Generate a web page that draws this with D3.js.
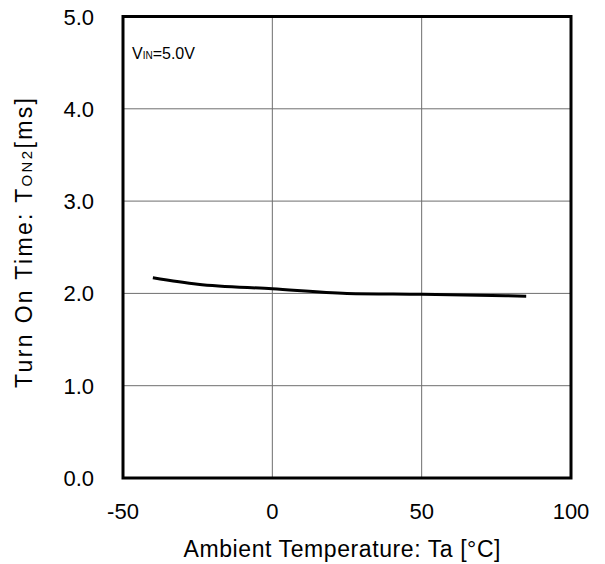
<!DOCTYPE html>
<html><head><meta charset="utf-8">
<script src="https://cdn.jsdelivr.net/npm/d3@7"></script>
<style>body{margin:0;background:#fff}svg{display:block}text{font-family:"Liberation Sans",Arial,sans-serif;fill:#000}</style>
</head><body>
<svg id="c" width="605" height="564"></svg>
<script>
const temps = [-40, -25, 0, 25, 50, 85];
const tonValues = [2.17, 2.10, 2.05, 2.00, 1.99, 1.97];
const xTicks = [-50, 0, 50, 100];
const yTicks = [0, 1, 2, 3, 4, 5];
const xLabels = ["-50", "0", "50", "100"];
const yLabels = ["0.0", "1.0", "2.0", "3.0", "4.0", "5.0"];

const svg = d3.select("#c");
const L = 123, R = 571, T = 16.5, B = 478;
const x = d3.scaleLinear().domain([-50, 100]).range([L, R]);
const y = d3.scaleLinear().domain([0, 5]).range([B, T]);

// grid
svg.append("g").selectAll("line").data(xTicks.slice(1, -1)).join("line")
  .attr("x1", d => x(d)).attr("x2", d => x(d)).attr("y1", T).attr("y2", B)
  .attr("stroke", "#6e6e6e").attr("stroke-width", 1);
svg.append("g").selectAll("line").data(yTicks.slice(1, -1)).join("line")
  .attr("y1", d => y(d)).attr("y2", d => y(d)).attr("x1", L).attr("x2", R)
  .attr("stroke", "#6e6e6e").attr("stroke-width", 1);

// data line
svg.append("path").datum(temps.map((t, i) => [t, tonValues[i]]))
  .attr("d", d3.line().x(d => x(d[0])).y(d => y(d[1])).curve(d3.curveMonotoneX))
  .attr("fill", "none").attr("stroke", "#000").attr("stroke-width", 3);

// frame
svg.append("rect").attr("x", L).attr("y", T).attr("width", R - L).attr("height", B - T)
  .attr("fill", "none").attr("stroke", "#000").attr("stroke-width", 3);

// tick labels
svg.append("g").selectAll("text").data(xTicks).join("text")
  .attr("x", d => x(d)).attr("y", 519).attr("text-anchor", "middle")
  .attr("font-size", 22).text((d, i) => xLabels[i]);
svg.append("g").selectAll("text").data(yTicks).join("text")
  .attr("x", 94).attr("y", d => y(d) + 8).attr("text-anchor", "end")
  .attr("font-size", 22).text((d, i) => yLabels[i]);

// axis titles
svg.append("text").attr("x", 342).attr("y", 557).attr("text-anchor", "middle")
  .attr("font-size", 23).attr("textLength", 317).attr("lengthAdjust", "spacing")
  .text("Ambient Temperature: Ta [°C]");
const yt = svg.append("text").attr("transform", `translate(32,243) rotate(-90)`)
  .attr("text-anchor", "middle").attr("font-size", 23)
  .attr("textLength", 290).attr("lengthAdjust", "spacing");
yt.append("tspan").text("Turn On Time: T");
yt.append("tspan").attr("font-size", 15).text("ON2");
yt.append("tspan").text("[ms]");

// annotation
const ann = svg.append("text").attr("x", 132).attr("y", 59).attr("font-size", 16);
ann.append("tspan").text("V");
ann.append("tspan").attr("font-size", 10).text("IN");
ann.append("tspan").text("=5.0V");
</script>
</body></html>
